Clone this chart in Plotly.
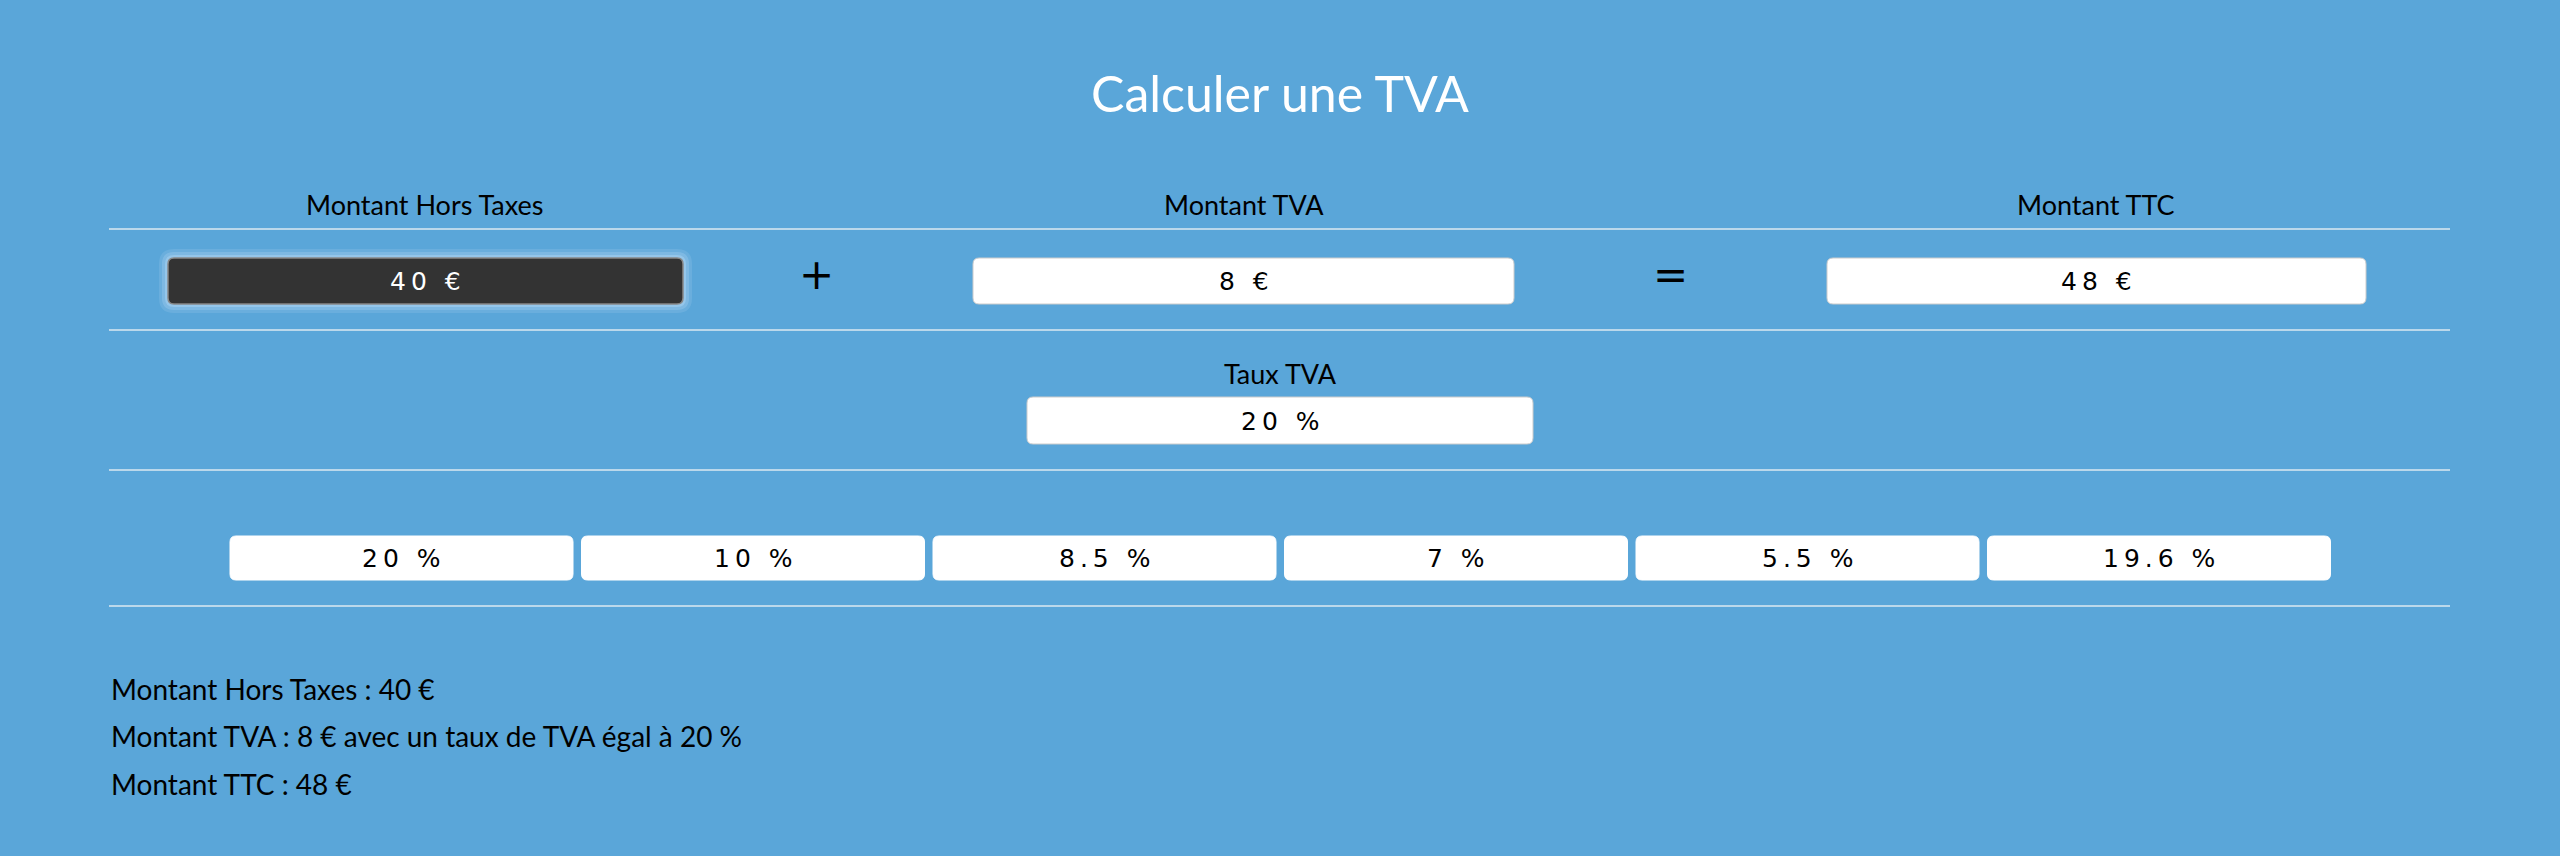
import plotly.graph_objects as go

title = "Calculer une TVA"
labels = ["Montant Hors Taxes", "Montant TVA", "Montant TTC"]
ht = 40
tva = 8
ttc = 48
taux = 20
rates = ["20", "10", "8.5", "7", "5.5", "19.6"]

BG = "#5aa6d9"
W, H = 2560, 856
fig = go.Figure()
shapes, ann = [], []

def rrect(x0, y0, x1, y1, r, fill, line="#cccccc", lw=1):
    p = (f"M{x0+r},{y0} L{x1-r},{y0} Q{x1},{y0} {x1},{y0+r} L{x1},{y1-r} Q{x1},{y1} {x1-r},{y1} "
         f"L{x0+r},{y1} Q{x0},{y1} {x0},{y1-r} L{x0},{y0+r} Q{x0},{y0} {x0+r},{y0} Z")
    shapes.append(dict(type="path", path=p, xref="x", yref="y", fillcolor=fill,
                       line=dict(color=line, width=lw), layer="above"))

def txt(x, y, s, size, color="black", fam="Lato", anchor="center"):
    ann.append(dict(x=x, y=y, xref="x", yref="y", text=s, showarrow=False, xanchor=anchor,
                    yanchor="middle", font=dict(size=size, color=color, family=fam)))

def sp(s):
    return "\u2009".join(s)

mono = "DejaVu Sans"
txt(1280, 93, title, 50, "white", "Lato")
for cx, lab in zip([425, 1244, 2096], labels):
    txt(cx, 204, lab, 27)
for y in [229, 330, 470, 606]:
    shapes.append(dict(type="line", x0=109, x1=2450, y0=y, y1=y, xref="x", yref="y",
                       line=dict(color="#dde8f0", width=1.5)))
for i, a in enumerate([0.12, 0.18, 0.25]):
    d = 9 - 3 * i
    rrect(168 - d, 258 - d, 683 + d, 304 + d, 6 + d, f"rgba(220,240,255,{a})", "rgba(0,0,0,0)", 0)
rrect(168, 258, 683, 304, 6, "#333333", "#888888", 1.5)
txt(425, 281, sp(f"{ht} €"), 25, "white", mono)
txt(816, 274, "+", 42, "black", "DejaVu Sans")
rrect(973, 258, 1514, 304, 6, "white")
txt(1244, 281, sp(f"{tva} €"), 25, "black", mono)
txt(1670, 274, "=", 42, "black", "DejaVu Sans")
rrect(1827, 258, 2366, 304, 6, "white")
txt(2096, 281, sp(f"{ttc} €"), 25, "black", mono)
txt(1280, 373, "Taux TVA", 27)
rrect(1027, 397, 1533, 444, 6, "white")
txt(1280, 421, sp(f"{taux} %"), 25, "black", mono)
for i, r in enumerate(rates):
    x0 = 230 + i * 351.5
    rrect(x0, 536, x0 + 343, 580, 6, "white", "white")
    txt(x0 + 171.5, 558, sp(f"{r} %"), 25, "black", mono)
lines = [f"Montant Hors Taxes : {ht} €",
         f"Montant TVA : {tva} € avec un taux de TVA égal à {taux} %",
         f"Montant TTC : {ttc} €"]
for y, s in zip([689, 736, 784], lines):
    txt(109, y, s, 28, anchor="left")

fig.add_trace(go.Scatter(x=[0, W], y=[0, H], mode="markers", marker=dict(opacity=0), hoverinfo="skip"))
fig.update_layout(width=W, height=H, margin=dict(l=0, r=0, t=0, b=0), paper_bgcolor=BG,
                  plot_bgcolor=BG, showlegend=False, shapes=shapes, annotations=ann,
                  xaxis=dict(range=[0, W], visible=False, fixedrange=True),
                  yaxis=dict(range=[H, 0], visible=False, fixedrange=True))
fig.write_html("out.html", config={"displayModeBar": False},
               post_script="document.body.style.margin='0';document.body.style.background='%s';" % BG)
